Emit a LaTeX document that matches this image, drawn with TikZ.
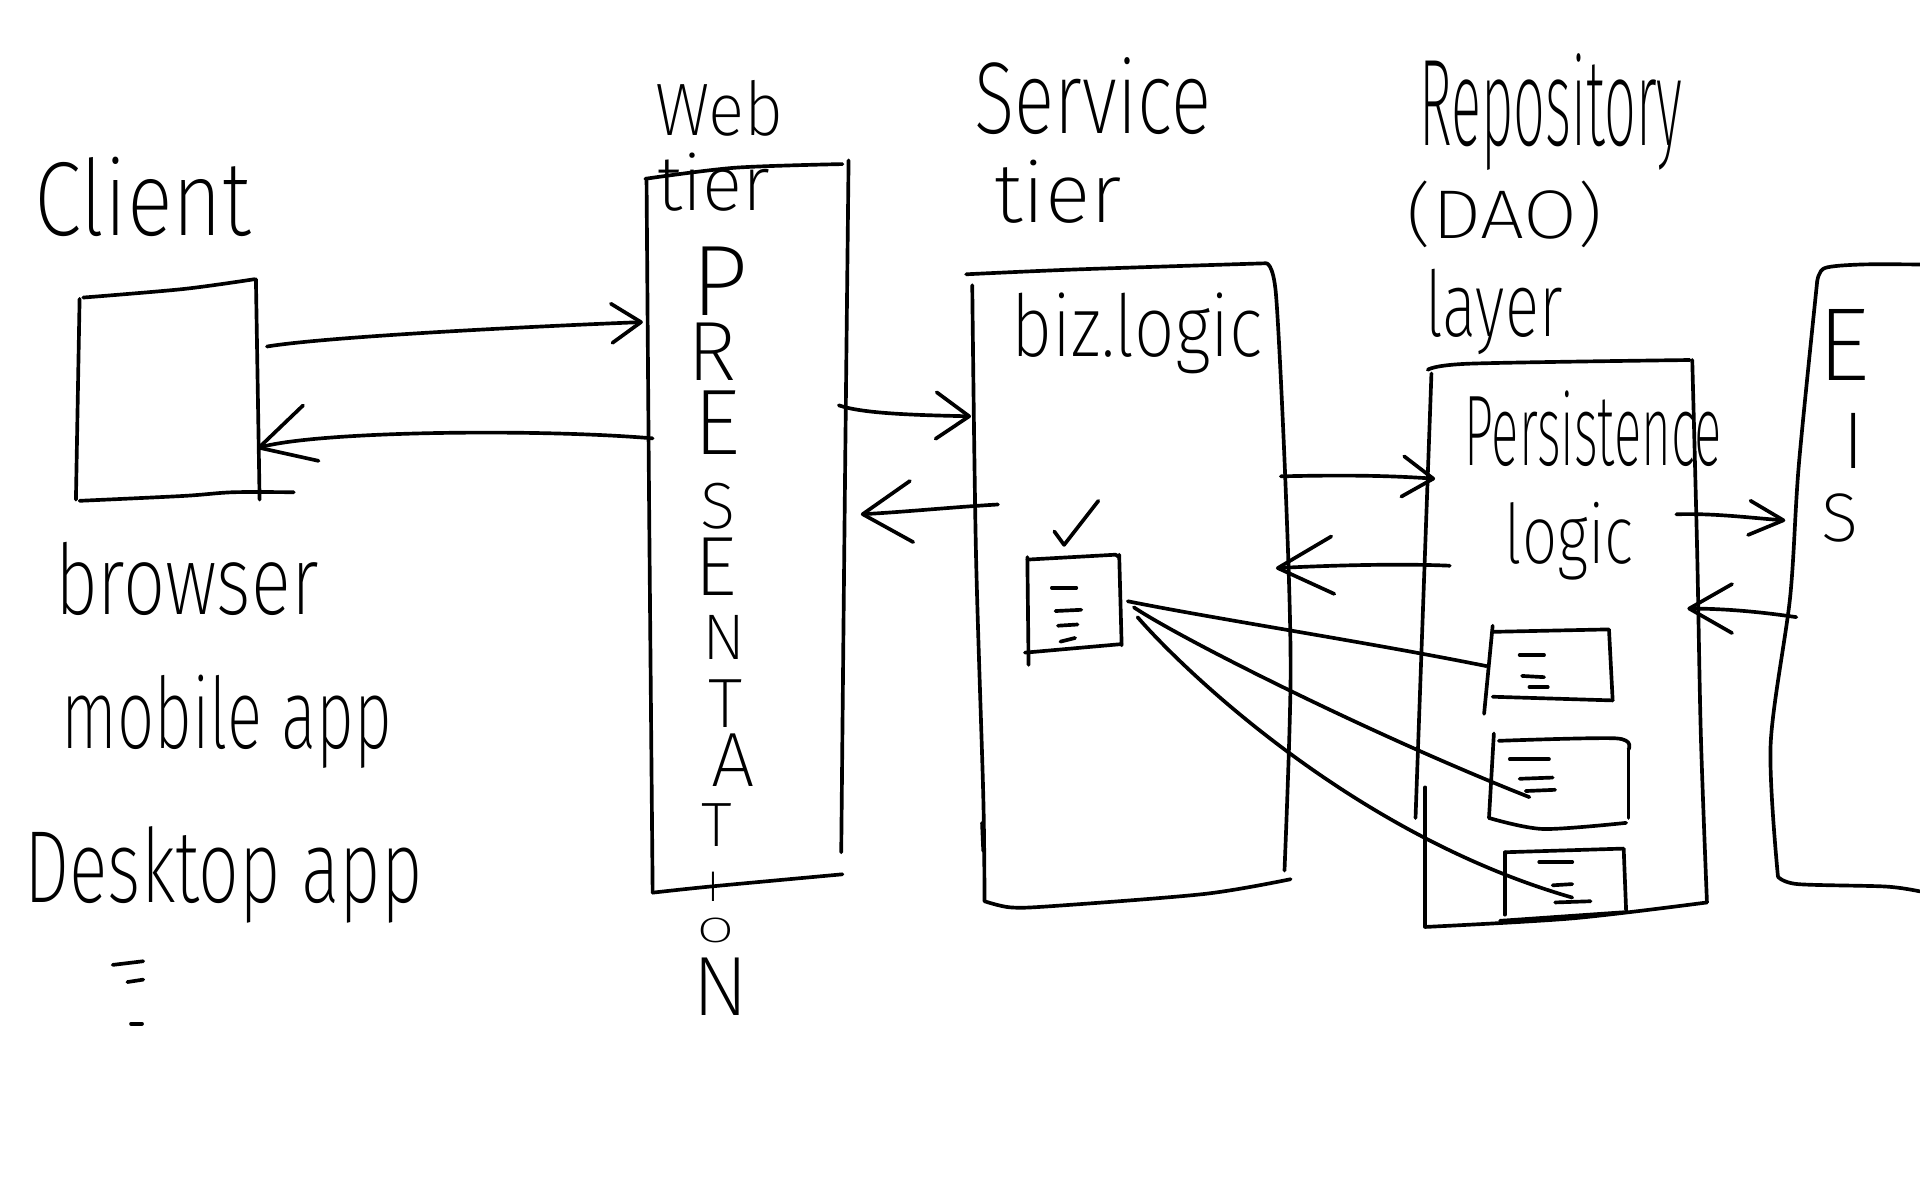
\documentclass[tikz,border=0pt]{standalone}
\usepackage{fontspec}
\usepackage{graphicx}
\newfontfamily\handfont{Fira Sans ExtraLight}
\usetikzlibrary{arrows.meta}
% text squeezed into a given width and height (in pt)
\newcommand\hw[3]{\resizebox{#1pt}{#2pt}{\handfont #3}}
% a single letter scaled to a given height, keeping its shape
\newcommand\hl[2]{\resizebox{!}{#1pt}{\handfont #2}}
% place a letter centred on x with its foot at y (y measured downwards)
\newcommand\lt[3]{\put(#1,-#2){\makebox(0,0)[b]{#3}}}

\tikzset{
  pen/.style={line width=3pt, line cap=round, line join=round},
  arr/.style 2 args={pen, -{Straight Barb[length=#1pt,width=#2pt,round]}},
  lbl/.style={anchor=base west, inner sep=0pt, outer sep=0pt},
  stack/.style={anchor=base west, inner sep=0pt, outer sep=0pt},
}

\begin{document}
\begin{tikzpicture}[x=1pt,y=-1pt]
\fill[white] (0,0) rectangle (1568,980);
\useasboundingbox (0,0) rectangle (1568,980);

% ---------- headings and labels ----------
\node[lbl] (client)   at (28,192)   {\hw{177}{64}{Client}};
\node[lbl] (browser)  at (45,502)   {\hw{215}{59}{browser}};
\node[lbl] (mobile)   at (50,611)   {\hw{270}{60}{mobile app}};
\node[lbl] (desktop)  at (20,737)   {\hw{325}{62}{Desktop app}};
\node[lbl] (web)      at (535,111)  {\hw{105}{45}{Web}};
\node[lbl] (webtier)  at (537,172)  {\hw{92}{47}{tier}};
\node[lbl] (service)  at (796,109)  {\hw{193}{62}{Service}};
\node[lbl] (servtier) at (812,182)  {\hw{104}{51}{tier}};
\node[lbl] (biz)      at (826,291)  {\hw{205}{52}{biz.logic}};
\node[lbl] (repo)     at (1159,119) {\hw{215}{75}{Repository}};
\node[lbl] (dao)      at (1149,195) {\hw{160}{47}{(DAO)}};
\node[lbl] (layer)    at (1164,275) {\hw{112}{55}{layer}};
\node[lbl] (persist)  at (1196,380) {\hw{210}{61}{Persistence}};
\node[lbl] (plogic)   at (1229,460) {\hw{105}{50}{logic}};

% vertical PRESENTATION, one letter under the other
\node[stack] (presentation) at (0,0) {\setlength{\unitlength}{1pt}%
  \begin{picture}(0,0)
  \lt{587}{258}{\hl{56}{P}}
  \lt{581}{311}{\hl{47}{R}}
  \lt{585}{371}{\hl{52}{E}}
  \lt{586}{432}{\hl{37}{S}}
  \lt{584}{486}{\hl{47}{E}}
  \lt{591}{539}{\hl{36}{N}}
  \lt{592}{594}{\hl{39}{T}}
  \lt{598}{642}{\hl{43}{A}}
  \lt{585}{691}{\hl{35}{T}}
  \lt{582}{736}{\hl{24}{I}}
  \lt{584}{770}{\resizebox{30pt}{20pt}{\handfont O}}
  \lt{588}{829}{\hl{47}{N}}
  \end{picture}};

% vertical EIS
\node[stack] (eis) at (0,0) {\setlength{\unitlength}{1pt}%
  \begin{picture}(0,0)
  \lt{1505}{311}{\hl{58}{E}}
  \lt{1513}{383}{\hl{45}{I}}
  \lt{1502}{443}{\hl{39}{S}}
  \end{picture}};

% ---------- client box ----------
\draw[pen] plot[smooth] coordinates {(68,243) (150,236) (208,228)};
\draw[pen] (209,228) -- (212,408);
\draw[pen] (65,244) -- (62,408);
\draw[pen] plot[smooth] coordinates {(65,409) (150,405) (190,402) (240,402)};
% vertical ellipsis under the client list
\draw[pen] (92,788) -- (117,785);
\draw[pen] (104,802) -- (117,800);
\draw[pen] (107,836) -- (116,836);

% ---------- web tier box ----------
\draw[pen] plot[smooth] coordinates {(527,146) (600,137) (688,134)};
\draw[pen] plot[smooth] coordinates {(528,146) (530,400) (533,729)};
\draw[pen] plot[smooth] coordinates {(693,131) (690,400) (687,696)};
\draw[pen] plot[smooth] coordinates {(533,729) (580,724) (688,714)};

% ---------- service tier box ----------
\draw[pen] plot[smooth] coordinates {(789,224) (880,220) (1034,215)};
\draw[pen] plot[smooth] coordinates {(1034,215) (1042,240) (1050,400) (1054,550) (1049,711)};
\draw[pen] plot[smooth] coordinates {(794,233) (797,450) (803,650) (804,736)};
\draw[pen] (802,672) -- (803,695);
\draw[pen] plot[smooth] coordinates {(804,736) (825,741) (859,740) (984,730) (1054,718)};

% component inside the service tier
\draw[pen] (861,434) -- (869,445) -- (897,409);
\draw[pen] (839,457) -- (911,453) -- (914,455);
\draw[pen] (914,453) -- (916,527);
\draw[pen] (837,533) -- (916,526);
\draw[pen] (839,455) -- (840,543);
\draw[pen] (859,480) -- (879,480);
\draw[pen] (862,499) -- (883,498);
\draw[pen] (864,511) -- (880,510);
\draw[pen] (866,524) -- (878,521);
\coordinate (docA) at (921,491);
\coordinate (docB) at (926,496);
\coordinate (docC) at (929,504);

% ---------- repository box ----------
\draw[pen] plot[smooth] coordinates {(1166,302) (1200,297) (1380,294)};
\draw[pen] plot[smooth] coordinates {(1382,294) (1386,450) (1389,600) (1394,737)};
\draw[pen] plot[smooth] coordinates {(1169,305) (1162,500) (1156,668)};
\draw[pen] (1164,643) -- (1164,757);
\draw[pen] plot[smooth] coordinates {(1164,757) (1284,750) (1394,737)};

% DAO components
\draw[pen] (1219,516) -- (1314,514) -- (1317,572);
\draw[pen] (1219,569) -- (1317,572);
\draw[pen] (1219,511) -- (1212,583);
\draw[pen] (1241,535) -- (1261,535);
\draw[pen] (1243,552) -- (1261,553);
\draw[pen] (1249,561) -- (1264,561);

\draw[pen] plot[smooth] coordinates {(1224,605) (1320,603) (1330,612)};
\draw[pen] (1330,612) -- (1330,668);
\draw[pen] plot[smooth] coordinates {(1216,668) (1260,677) (1328,672)};
\draw[pen] (1220,599) -- (1216,668);
\draw[pen] (1233,620) -- (1265,620);
\draw[pen] (1241,636) -- (1268,635);
\draw[pen] (1246,646) -- (1270,645);

\draw[pen] (1229,696) -- (1326,693) -- (1328,744);
\draw[pen] (1225,752) -- (1326,745);
\draw[pen] (1229,696) -- (1229,747);
\draw[pen] (1257,704) -- (1284,704);
\draw[pen] (1268,723) -- (1284,722);
\draw[pen] (1270,737) -- (1299,736);
\coordinate (daoA) at (1214,544);
\coordinate (daoB) at (1249,651);
\coordinate (daoC) at (1284,733);

% ---------- EIS box ----------
\draw[pen] plot[smooth] coordinates {(1568,216) (1520,216) (1490,219) (1484,230)};
\draw[pen] plot[smooth] coordinates {(1484,230) (1469,380) (1462,487) (1446,608) (1452,716)};
\draw[pen] plot[smooth] coordinates {(1452,716) (1468,722) (1540,724) (1568,728)};

% ---------- calls from the service component to the DAOs ----------
\draw[pen] (docA) .. controls (990,505) and (1120,525) .. (daoA);
\draw[pen] (docB) .. controls (965,522) and (1120,600) .. (daoB);
\draw[pen] (docC) .. controls (960,540) and (1100,680) .. (daoC);

% ---------- request / response arrows ----------
\coordinate (cliOut) at (218,283);
\coordinate (webIn)  at (525,263);
\coordinate (webOut) at (533,358);
\coordinate (cliIn)  at (210,366);
\draw[arr={24}{32}] (cliOut) .. controls (260,276) and (400,268) .. (webIn);
\draw[arr={44}{47}] (webOut) .. controls (440,350) and (260,352) .. (cliIn);

\coordinate (webR1) at (685,331);
\coordinate (srvL1) at (793,340);
\coordinate (srvL2) at (815,412);
\coordinate (webR2) at (703,420);
\draw[arr={27}{38}] (webR1) .. controls (705,338) and (750,339) .. (srvL1);
\draw[arr={40}{50}] (srvL2) .. controls (780,414) and (740,418) .. (webR2);

\coordinate (srvR1) at (1046,389);
\coordinate (repL1) at (1172,391);
\coordinate (repL2) at (1184,462);
\coordinate (srvR2) at (1042,464);
\draw[arr={25}{33}] (srvR1) .. controls (1090,388) and (1130,388) .. (repL1);
\draw[arr={45}{47}] (repL2) .. controls (1140,460) and (1080,462) .. (srvR2);

\coordinate (repR1) at (1369,420);
\coordinate (eisL1) at (1458,425);
\coordinate (eisL2) at (1467,504);
\coordinate (repR2) at (1378,497);
\draw[arr={28}{28}] (repR1) .. controls (1400,419) and (1430,423) .. (eisL1);
\draw[arr={35}{40}] (eisL2) .. controls (1440,500) and (1410,497) .. (repR2);
\end{tikzpicture}
\end{document}
